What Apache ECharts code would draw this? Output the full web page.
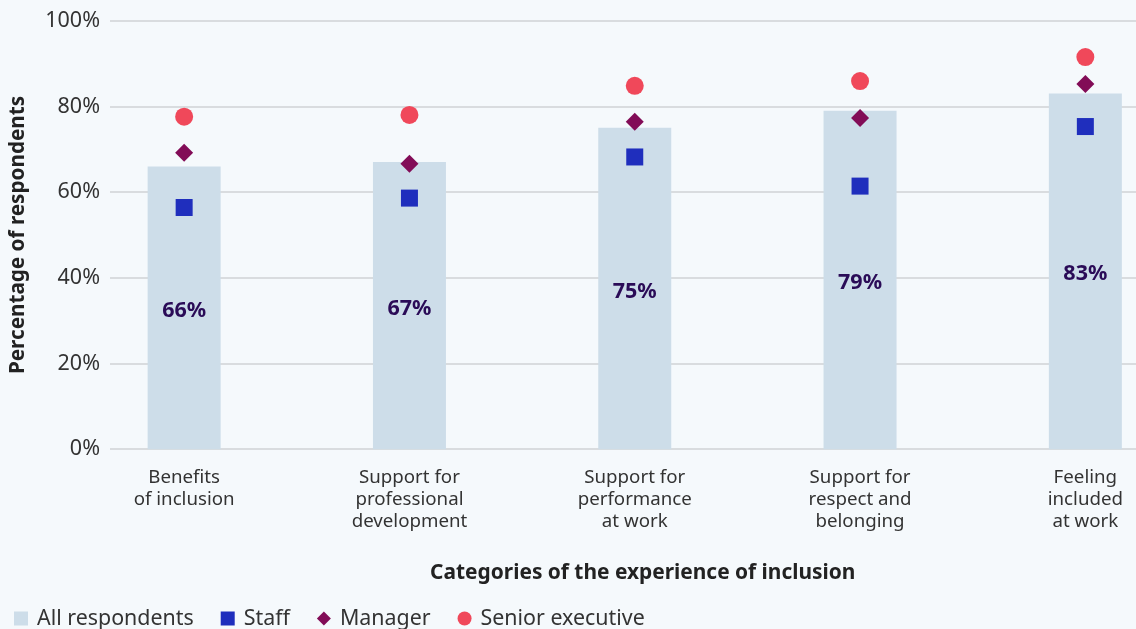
<!DOCTYPE html>
<html>
<head>
<meta charset="utf-8">
<script src="https://cdn.jsdelivr.net/npm/echarts@6/dist/echarts.min.js"></script>
<style>
html,body{margin:0;padding:0;background:#f5f9fc;}
#c{width:1136px;height:629px;}
</style>
</head>
<body>
<div id="c"></div>
<script>
const categories = ['Benefits\nof inclusion', 'Support for\nprofessional\ndevelopment', 'Support for\nperformance\nat work', 'Support for\nrespect and\nbelonging', 'Feeling\nincluded\nat work'];
const allRespondents = [66, 67, 75, 79, 83];
const staff = [56.4, 58.6, 68.2, 61.4, 75.3];
const manager = [69.2, 66.6, 76.4, 77.3, 85.2];
const seniorExecutive = [77.6, 78.0, 84.8, 85.9, 91.5];
const yAxisName = 'Percentage of respondents';
const xAxisName = 'Categories of the experience of inclusion';

const FONT = '"Noto Sans", "Open Sans", sans-serif';
const chart = echarts.init(document.getElementById('c'));
chart.setOption({
  backgroundColor: '#f5f9fc',
  textStyle: { fontFamily: FONT },
  animation: false,
  grid: [
    { left: 110, right: 0, top: 20.7, bottom: 179.8, outerBoundsMode: 'none' },
    { left: 71.5, width: 1126.5, top: 20.7, bottom: 179.8, outerBoundsMode: 'none' }
  ],
  legend: {
    left: 9, bottom: -5, itemWidth: 14, itemHeight: 14, itemGap: 27,
    textStyle: { fontFamily: FONT, fontSize: 21.4, color: '#333', padding: [0, 0, 0, 4] },
    data: [
      { name: 'All respondents', icon: 'rect' },
      { name: 'Staff', icon: 'rect' },
      { name: 'Manager', icon: 'diamond' },
      { name: 'Senior executive', icon: 'circle' }
    ]
  },
  xAxis: [
    { type: 'category', gridIndex: 0, data: categories, show: false },
    {
      type: 'category', gridIndex: 1, data: categories,
      axisLine: { show: false }, axisTick: { show: false },
      axisLabel: { interval: 0, fontFamily: FONT, fontSize: 18.7, lineHeight: 22, color: '#333', margin: 17 },
      name: xAxisName, nameLocation: 'middle', nameGap: 113,
      nameTextStyle: { fontFamily: FONT, fontSize: 20.9, fontWeight: 'bold', color: '#222', padding: [0, 0, 0, 16] }
    }
  ],
  yAxis: [
    {
      type: 'value', gridIndex: 0, min: 0, max: 100, interval: 20,
      axisLine: { show: false }, axisTick: { show: false },
      axisLabel: { formatter: '{value}%', fontFamily: FONT, fontSize: 21.5, color: '#333', margin: 10 },
      splitLine: { lineStyle: { color: '#d9dcdf', width: 2 } },
      name: yAxisName, nameLocation: 'middle', nameGap: 81, nameRotate: 90,
      nameTextStyle: { fontFamily: FONT, fontSize: 20.7, fontWeight: 'bold', color: '#222' }
    },
    { type: 'value', gridIndex: 1, min: 0, max: 100, interval: 20, show: false }
  ],
  series: [
    {
      name: 'All respondents', type: 'bar', xAxisIndex: 1, yAxisIndex: 1,
      data: allRespondents, barWidth: 73,
      itemStyle: { color: '#cddde9', opacity: 1 },
      label: { show: true, position: 'inside', offset: [0, 3], formatter: '{c}%', fontFamily: FONT, fontSize: 21.5, fontWeight: 'bold', color: '#2a0b57' }
    },
    {
      name: 'Staff', type: 'scatter', xAxisIndex: 1, yAxisIndex: 1,
      data: staff, symbol: 'rect', symbolSize: 17,
      itemStyle: { color: '#1f2ebd', opacity: 1 }
    },
    {
      name: 'Manager', type: 'scatter', xAxisIndex: 1, yAxisIndex: 1,
      data: manager, symbol: 'diamond', symbolSize: 18,
      itemStyle: { color: '#820c57', opacity: 1 }
    },
    {
      name: 'Senior executive', type: 'scatter', xAxisIndex: 1, yAxisIndex: 1,
      data: seniorExecutive, symbol: 'circle', symbolSize: 18,
      itemStyle: { color: '#f0485a', opacity: 1 }
    }
  ]
});
</script>
</body>
</html>
